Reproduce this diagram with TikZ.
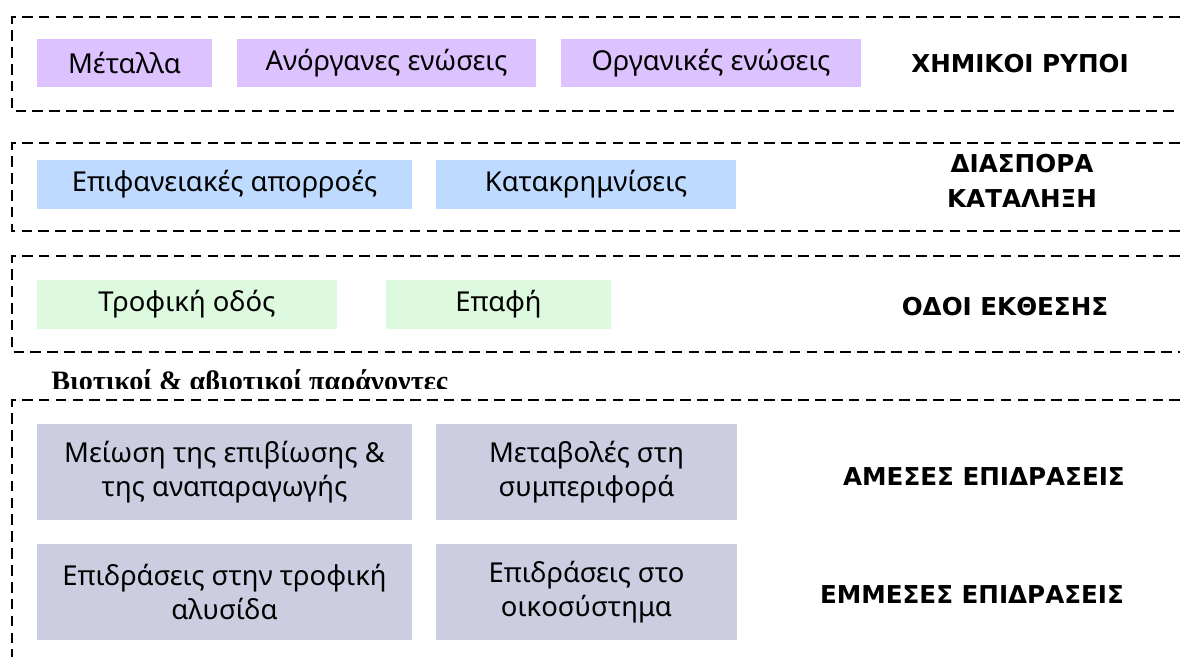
\documentclass[tikz,border=0pt]{standalone}
\usepackage{fontspec}
\setmainfont{Noto Sans}
\newfontfamily\titlefont{DejaVu Sans}
\newfontfamily\factorfont{Liberation Serif}
\usetikzlibrary{positioning}

\definecolor{chempurple}{RGB}{220,194,255}
\definecolor{spreadblue}{RGB}{190,219,255}
\definecolor{routegreen}{RGB}{221,250,222}
\definecolor{effectgrey}{RGB}{204,205,224}

\begin{document}
\begin{tikzpicture}[x=0.025cm,y=-0.025cm,
    groupline/.style={draw=black,line width=1.8pt,dash pattern=on 7.5pt off 4.5pt},
    itembox/.style={rectangle,inner sep=0pt,outer sep=0pt,align=center,
      minimum height=1.2cm,font=\fontsize{19.5}{24.5}\selectfont},
    chembox/.style={itembox,fill=chempurple},
    spreadbox/.style={itembox,fill=spreadblue},
    routebox/.style={itembox,fill=routegreen},
    effectbox/.style={itembox,fill=effectgrey,minimum height=2.4cm},
    grouptitle/.style={align=center,font=\titlefont\fontsize{17.5}{25}\selectfont\bfseries}]

    \useasboundingbox (0,0) rectangle (1180,657);

    % open dashed frames
    \draw[groupline] (1180,17) -- (12,17) -- (12,111) -- (1180,111);
    \draw[groupline] (1180,143) -- (12,143) -- (12,231) -- (1180,231);
    \draw[groupline] (1180,256) -- (12,256) -- (12,352) -- (1180,352);
    \draw[groupline] (1180,400) -- (12,400) -- (12,657);

    \node(metals) [chembox,minimum width=4.375cm] at (124.5,63) {Μέταλλα};
    \node(inorganic) [chembox,minimum width=7.475cm] at (386.5,63) {Ανόργανες ενώσεις};
    \node(organic) [chembox,minimum width=7.5cm] at (711,63) {Οργανικές ενώσεις};
    \node(chemtitle) [grouptitle] at (1020,64) {ΧΗΜΙΚΟΙ ΡΥΠΟΙ};

    \node(runoff) [spreadbox,minimum width=9.375cm] at (224.5,184.5) {Επιφανειακές απορροές};
    \node(precip) [spreadbox,minimum width=7.5cm] at (586,184.5) {Κατακρημνίσεις};
    \node(spreadtitle) [grouptitle] at (1022,181) {ΔΙΑΣΠΟΡΑ\\ΚΑΤΑΛΗΞΗ};

    \node(foodroute) [routebox,minimum width=7.5cm] at (187,304.5) {Τροφική οδός};
    \node(contact) [routebox,minimum width=5.625cm] at (498.5,304.5) {Επαφή};
    \node(routetitle) [grouptitle] at (1005,307) {ΟΔΟΙ ΕΚΘΕΣΗΣ};

    \begin{scope}
      \clip (0,356) rectangle (700,388);
      \node(factors) [anchor=base west,inner sep=0pt,
        font=\factorfont\fontsize{20}{22}\selectfont\bfseries] at (51,390)
        {Βιοτικοί \& αβιοτικοί παράγοντες};
    \end{scope}

    \node(survival) [effectbox,minimum width=9.375cm] at (224.5,472)
      {Μείωση της επιβίωσης \&\\της αναπαραγωγής};
    \node(behaviour) [effectbox,minimum width=7.525cm] at (586.5,472)
      {Μεταβολές στη\\συμπεριφορά};
    \node(directtitle) [grouptitle] at (984,477) {ΑΜΕΣΕΣ ΕΠΙΔΡΑΣΕΙΣ};

    \node(foodchain) [effectbox,minimum width=9.375cm] at (224.5,592)
      {Επιδράσεις στην τροφική\\αλυσίδα};
    \node(ecosystem) [effectbox,minimum width=7.525cm] at (586.5,592)
      {Επιδράσεις στο\\οικοσύστημα};
    \node(indirecttitle) [grouptitle] at (972,595) {ΕΜΜΕΣΕΣ ΕΠΙΔΡΑΣΕΙΣ};

\end{tikzpicture}
\end{document}
